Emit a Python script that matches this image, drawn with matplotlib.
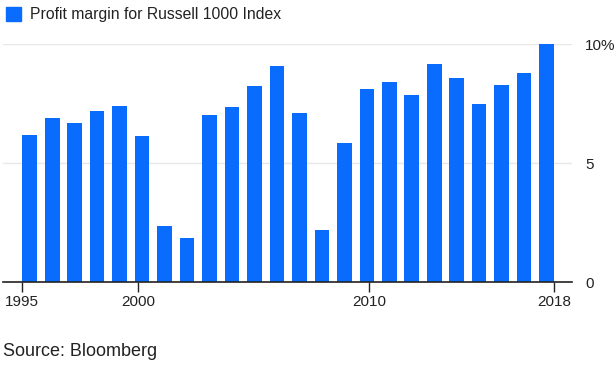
import matplotlib
matplotlib.use("Agg")
import matplotlib.pyplot as plt
import numpy as np

years = list(range(1995, 2019))
margins = [6.19, 6.91, 6.70, 7.20, 7.41, 6.15, 2.35, 1.84, 7.03, 7.37, 8.26, 9.10,
           7.12, 2.18, 5.85, 8.13, 8.43, 7.88, 9.16, 8.59, 7.50, 8.30, 8.81, 10.03]
tick_years = [1995, 2000, 2010, 2018]
ytick_vals = [0, 5, 10]
ytick_labels = ["0", "5", "10%"]

plt.rcParams['font.family'] = ['Liberation Sans', 'DejaVu Sans']
W, H = 616, 368
fig = plt.figure(figsize=(W/100, H/100), dpi=100)
ax = fig.add_axes([3/W, 1-282/H, (572-3)/W, (282-44.3)/H])

idx = np.arange(len(years))
color = "#0a6cff"
ax.bar(idx, margins, width=0.65, color=color, zorder=3)

ax.set_xlim(-1.19, 24.13)
ax.set_ylim(0, 10)

# time-scale ticks (slightly different spacing than the bar band)
tpos = [(y - 1995) * (23.65 / 23) - 0.33 for y in tick_years]
ax.set_xticks(tpos)
ax.set_xticklabels([str(y) for y in tick_years], fontsize=11, color="#222222")
ax.tick_params(axis='x', length=7, width=1, color="#222222", pad=2)

ax.set_yticks(ytick_vals)
ax.set_yticklabels(ytick_labels, fontsize=11, color="#222222")
ax.yaxis.tick_right()
ax.tick_params(axis='y', length=0, pad=9.3)
for lab in ax.get_yticklabels():
    lab.set_horizontalalignment('left')

ax.grid(axis='y', color="#e8e8e8", linewidth=1, zorder=0)
for s in ['top', 'right', 'left']:
    ax.spines[s].set_visible(False)
ax.spines['bottom'].set_color("#222222")
ax.spines['bottom'].set_linewidth(1.2)
ax.spines['bottom'].set_zorder(4)

# legend
fig.patches.append(plt.Rectangle((6/W, 1-20.7/H), 14.5/W, 14/H, transform=fig.transFigure,
                                 color=color, figure=fig))
fig.text(30/W, 1-14/H, "Profit margin for Russell 1000 Index", fontsize=11.3,
         va='center', ha='left', color="#222222")

fig.text(3/W, 1-352/H, "Source: Bloomberg", fontsize=13, va='center', ha='left', color="#222222")

fig.savefig("out.png", dpi=100)
